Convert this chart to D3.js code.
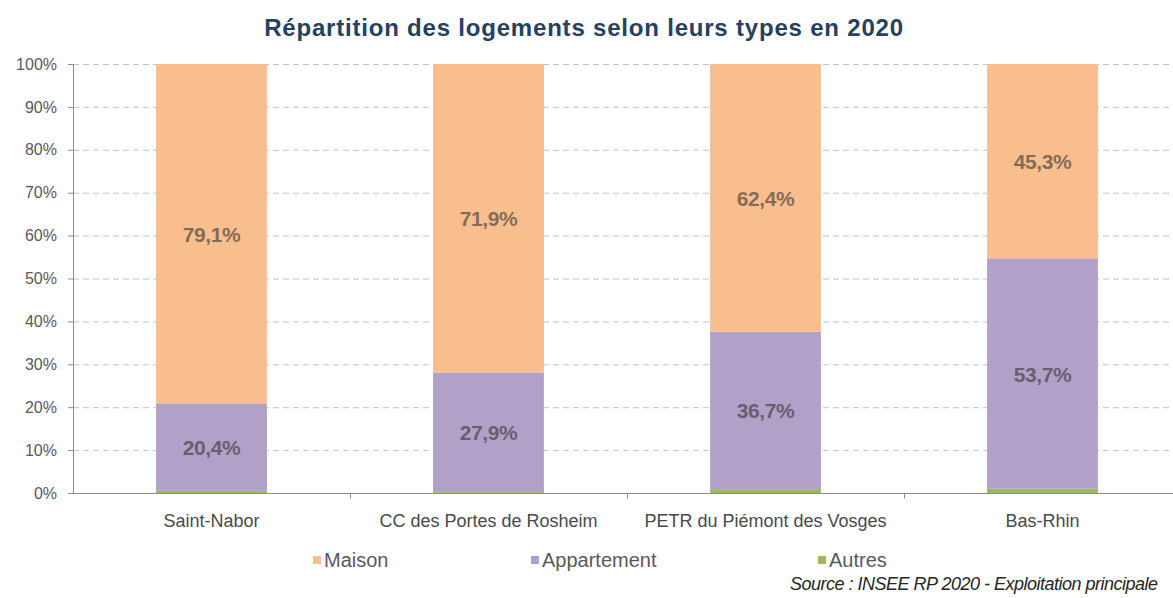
<!DOCTYPE html>
<html>
<head>
<meta charset="utf-8">
<script src="https://cdn.jsdelivr.net/npm/d3@7"></script>
<style>
  body { margin: 0; background: #fff; }
  svg { display: block; font-family: "Liberation Sans", Arial, sans-serif; }
</style>
</head>
<body>
<div id="chart"></div>
<script>
// data
const categories = ['Saint-Nabor', 'CC des Portes de Rosheim', 'PETR du Piémont des Vosges', 'Bas-Rhin'];
const autres = [0.5, 0.2, 0.9, 1.0];
const appartement = [20.4, 27.9, 36.7, 53.7];
const maison = [79.1, 71.9, 62.4, 45.3];
const seriesNames = ['Autres', 'Appartement', 'Maison'];
const yTicks = [0, 10, 20, 30, 40, 50, 60, 70, 80, 90, 100];

const colors = { Maison: '#f9be8e', Appartement: '#b1a0c7', Autres: '#9bbb59' };

const width = 1173, height = 598;
const margin = { top: 64, left: 73, bottom: 105 };
const plotW = 1108; // runs a bit past the right edge, like the source
const plotH = height - margin.top - margin.bottom;

const rows = categories.map((c, i) => ({
    cat: c, Autres: autres[i], Appartement: appartement[i], Maison: maison[i]
}));
const stacked = d3.stack().keys(seriesNames)(rows);

const svg = d3.select('#chart').append('svg')
    .attr('width', width)
    .attr('height', height);

const x = d3.scaleBand().domain(categories).range([margin.left, margin.left + plotW]).paddingInner(0.6).paddingOuter(0.3);
const xOuter = d3.scaleBand().domain(categories).range([margin.left, margin.left + plotW]);
const y = d3.scaleLinear().domain([0, 100]).range([margin.top + plotH, margin.top]);

// title
svg.append('text')
    .attr('x', 584)
    .attr('y', 36)
    .attr('text-anchor', 'middle')
    .attr('font-size', 24)
    .attr('font-weight', 'bold')
    .attr('letter-spacing', 0.8)
    .attr('fill', '#254061')
    .text('Répartition des logements selon leurs types en 2020');

// gridlines
svg.append('g')
    .selectAll('line')
    .data(yTicks.filter(t => t > 0))
    .enter().append('line')
    .attr('x1', margin.left)
    .attr('x2', width)
    .attr('y1', d => y(d) + 0.5)
    .attr('y2', d => y(d) + 0.5)
    .attr('stroke', '#c4c4c4')
    .attr('stroke-dasharray', '6,4');

// bars
svg.append('g')
    .selectAll('g')
    .data(stacked)
    .enter().append('g')
    .attr('fill', d => colors[d.key])
    .selectAll('rect')
    .data(d => d)
    .enter().append('rect')
    .attr('x', d => x(d.data.cat))
    .attr('width', x.bandwidth())
    .attr('y', d => y(d[1]))
    .attr('height', d => y(d[0]) - y(d[1]));

// value labels (Appartement and Maison only)
svg.append('g')
    .selectAll('g')
    .data(stacked.filter(s => s.key !== 'Autres'))
    .enter().append('g')
    .selectAll('text')
    .data(d => d.map(v => ({ v, key: d.key })))
    .enter().append('text')
    .attr('x', d => x(d.v.data.cat) + x.bandwidth() / 2)
    .attr('y', d => y((d.v[0] + d.v[1]) / 2) + 8)
    .attr('text-anchor', 'middle')
    .attr('font-size', 21)
    .attr('font-weight', 'bold')
    .attr('letter-spacing', -0.4)
    .attr('fill', '#333')
    .attr('fill-opacity', 0.6)
    .text(d => d3.format('.1f')(d.v.data[d.key]).replace('.', ',') + '%');

// y axis
const yAxis = svg.append('g')
    .attr('transform', `translate(${margin.left},0)`)
    .call(d3.axisLeft(y).tickValues(yTicks).tickSize(5).tickPadding(11).tickFormat(d => d + '%'));
yAxis.select('.domain').attr('stroke', '#8c8c8c');
yAxis.selectAll('.tick line').attr('stroke', '#8c8c8c');
yAxis.selectAll('.tick text')
    .attr('font-size', 16)
    .attr('fill', '#595959')
    .attr('font-family', '"Liberation Sans", Arial, sans-serif');

// x axis
const xAxisG = svg.append('g')
    .attr('transform', `translate(0,${margin.top + plotH + 0.5})`);
xAxisG.append('line')
    .attr('x1', margin.left).attr('x2', width)
    .attr('stroke', '#8c8c8c');
xAxisG.selectAll('line.tk')
    .data(categories.slice(1))
    .enter().append('line')
    .attr('class', 'tk')
    .attr('x1', d => xOuter(d) + 0.5)
    .attr('x2', d => xOuter(d) + 0.5)
    .attr('y1', 0).attr('y2', 5)
    .attr('stroke', '#8c8c8c');
xAxisG.selectAll('text')
    .data(categories)
    .enter().append('text')
    .attr('x', d => xOuter(d) + xOuter.bandwidth() / 2)
    .attr('y', 33)
    .attr('text-anchor', 'middle')
    .attr('font-size', 18)
    .attr('fill', '#4a4a4a')
    .text(d => d);

// legend
const legendItems = [
    { key: 'Maison', x: 313 },
    { key: 'Appartement', x: 531 },
    { key: 'Autres', x: 818 }
];
const legend = svg.append('g').attr('transform', 'translate(0,561)');
legend.selectAll('rect')
    .data(legendItems)
    .enter().append('rect')
    .attr('x', d => d.x)
    .attr('y', -5)
    .attr('width', 8)
    .attr('height', 8)
    .attr('fill', d => colors[d.key]);
legend.selectAll('text')
    .data(legendItems)
    .enter().append('text')
    .attr('x', d => d.x + 11)
    .attr('y', 6)
    .attr('font-size', 20)
    .attr('fill', '#595959')
    .text(d => d.key);

// source
svg.append('text')
    .attr('x', 790)
    .attr('y', 590)
    .attr('font-size', 18)
    .attr('font-style', 'italic')
    .attr('letter-spacing', -0.5)
    .attr('fill', '#262626')
    .text('Source : INSEE RP 2020 - Exploitation principale');
</script>
</body>
</html>
